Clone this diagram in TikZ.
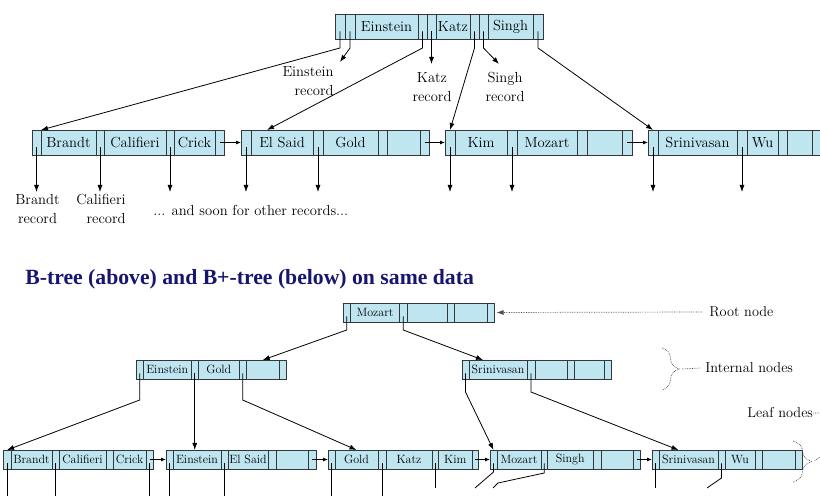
\documentclass[tikz,border=0pt]{standalone}
\usepackage{fontspec}
\newfontfamily\titlefont{Liberation Serif}
\usepackage{tikz}
\usetikzlibrary{positioning,arrows.meta,decorations.pathreplacing}
\definecolor{cellfill}{RGB}{190,229,240}
\definecolor{cellline}{RGB}{50,55,58}
\definecolor{titleblue}{RGB}{22,22,112}

\begin{document}
\begin{tikzpicture}[x=1pt, y=-1pt, >={Latex[length=7pt,width=5pt]}, line width=0.8pt,
    cell/.style={draw=cellline, fill=cellfill, inner sep=0pt, outer sep=0pt},
    big/.style={cell, minimum height=25pt, font=\fontsize{14.6}{17}\selectfont},
    small/.style={cell, minimum height=19pt, font=\fontsize{12}{14}\selectfont},
    rec/.style={inner sep=0pt, font=\fontsize{14.6}{18.5}\selectfont},
    tag/.style={inner sep=0pt, font=\fontsize{14.3}{17}\selectfont},
    note/.style={densely dotted, line width=0.7pt, draw=black!70},
    next/.style={-{Latex[length=5pt,width=4pt]}}]
  \path[use as bounding box, fill=white] (0,0) rectangle (820,502);
  \clip (0,0) rectangle (820,502);

  % B-tree
  \coordinate (rStart) at (335,26.5);
  \foreach \nm/\wid/\txt [remember=\nm as \prev (initially rStart)] in
    {rP1/10/{},rB1/10/{},rK1/63/Einstein,rP2/9/{},rB2/9/{},rK2/34/Katz,rP3/9/{},rB3/9/{},rK3/45/Singh,rP4/10/{}}
    \node[big, minimum width=\wid pt, right=0pt of \prev] (\nm) {\txt};
  \coordinate (lBrStart) at (32,142.5);
  \foreach \nm/\wid/\txt [remember=\nm as \prev (initially lBrStart)] in
    {lBrP1/9/{},lBrK1/55/Brandt,lBrP2/8/{},lBrK2/62/Califieri,lBrP3/8/{},lBrK3/41/Crick,lBrP4/9/{}}
    \node[big, minimum width=\wid pt, right=0pt of \prev] (\nm) {\txt};
  \coordinate (lElStart) at (241,142.5);
  \foreach \nm/\wid/\txt [remember=\nm as \prev (initially lElStart)] in
    {lElP1/10/{},lElK1/62/El Said,lElP2/10/{},lElK2/55/Gold,lElP3/9/{},lElK3/33/{},lElP4/9/{}}
    \node[big, minimum width=\wid pt, right=0pt of \prev] (\nm) {\txt};
  \coordinate (lKiStart) at (445,142.5);
  \foreach \nm/\wid/\txt [remember=\nm as \prev (initially lKiStart)] in
    {lKiP1/10/{},lKiK1/52/Kim,lKiP2/10/{},lKiK2/60/Mozart,lKiP3/10/{},lKiK3/35/{},lKiP4/10/{}}
    \node[big, minimum width=\wid pt, right=0pt of \prev] (\nm) {\txt};
  \coordinate (lSrStart) at (648,142.5);
  \foreach \nm/\wid/\txt [remember=\nm as \prev (initially lSrStart)] in
    {lSrP1/10/{},lSrK1/79/Srinivasan,lSrP2/10/{},lSrK2/31/Wu,lSrP3/9/{},lSrK3/25/{},lSrP4/10/{}}
    \node[big, minimum width=\wid pt, right=0pt of \prev] (\nm) {\txt};

  \node[rec, align=right, anchor=east] (einRec) at (334,81) {Einstein\\record};
  \node[rec, align=center] (katzRec) at (432,87) {Katz\\record};
  \node[rec, align=center] (singhRec) at (505,87) {Singh\\record};
  \coordinate (bendTop) at (0,48);
  \coordinate (einTip) at (340,62);
  \coordinate (katzTip) at (0,64);
  \coordinate (singhTip) at (499,64);
  \draw[->] ([yshift=-5pt]rP1.center) -- (rP1 |- bendTop) -- (lBrP1.north east);
  \draw[->] ([yshift=-5pt]rB1.center) -- (rB1 |- bendTop) -- (einTip);
  \draw[->] ([yshift=-5pt]rP2.center) -- (rP2 |- bendTop) -- ([xshift=16pt]lElK1.north west);
  \draw[->] ([yshift=-5pt]rB2.center) -- (rB2 |- katzTip);
  \draw[->] ([yshift=-5pt]rP3.center) -- (rP3 |- bendTop) -- (lKiP1.north);
  \draw[->] ([yshift=-5pt]rB3.center) -- (rB3 |- bendTop) -- (singhTip);
  \draw[->] ([yshift=-5pt]rP4.center) -- (rP4 |- bendTop) -- (lSrP1.north);

  \draw[next] (lBrP4.center) -- (lElP1.west);
  \draw[next] (lElP4.center) -- (lKiP1.west);
  \draw[next] (lKiP4.center) -- (lSrP1.west);
  \coordinate (recLine) at (0,192);
  \foreach \p in {lBrP1,lBrP2,lBrP3,lElP1,lElP2,lKiP1,lKiP2,lSrP1,lSrP2}
    \draw[->] ([yshift=-5pt]\p.center) -- (\p |- recLine);
  \node[rec, align=center, anchor=north] (brRec) at (37.5,194) {Brandt\\record};
  \node[rec, align=right, anchor=north east] (caRec) at (126,194) {Califieri\\record};
  \node[rec, anchor=west] (others) at (153,210) {... and soon for other records...};

  \node[anchor=west, inner sep=0pt, text=titleblue,
    font={\titlefont\bfseries\fontsize{21.7}{26}\selectfont}] (title) at (25,279)
    {B-tree (above) and B+-tree (below) on same data};

  % B+-tree
  \coordinate (bRtStart) at (343,312.5);
  \foreach \nm/\wid/\txt [remember=\nm as \prev (initially bRtStart)] in
    {bRtP1/7.5/{},bRtK1/49/Mozart,bRtP2/7.5/{},bRtK2/40/{},bRtP3/7.5/{},bRtK3/33/{},bRtP4/7/{}}
    \node[small, minimum width=\wid pt, right=0pt of \prev] (\nm) {\txt};
  \coordinate (iEiStart) at (136,369.5);
  \foreach \nm/\wid/\txt [remember=\nm as \prev (initially iEiStart)] in
    {iEiP1/7.5/{},iEiK1/47.5/Einstein,iEiP2/7.5/{},iEiK2/40.5/Gold,iEiP3/7.5/{},iEiK3/32.5/{},iEiP4/7/{}}
    \node[small, minimum width=\wid pt, right=0pt of \prev] (\nm) {\txt};
  \coordinate (iSrStart) at (462,369.5);
  \foreach \nm/\wid/\txt [remember=\nm as \prev (initially iSrStart)] in
    {iSrP1/7/{},iSrK1/58/Srinivasan,iSrP2/8/{},iSrK2/32/{},iSrP3/7/{},iSrK3/30/{},iSrP4/7/{}}
    \node[small, minimum width=\wid pt, right=0pt of \prev] (\nm) {\txt};
  \coordinate (bBrStart) at (3,459.5);
  \foreach \nm/\wid/\txt [remember=\nm as \prev (initially bBrStart)] in
    {bBrP1/8/{},bBrK1/41/Brandt,bBrP2/7/{},bBrK2/47/Califieri,bBrP3/7/{},bBrK3/33/Crick,bBrP4/7/{}}
    \node[small, minimum width=\wid pt, right=0pt of \prev] (\nm) {\txt};
  \coordinate (bEiStart) at (166,459.5);
  \foreach \nm/\wid/\txt [remember=\nm as \prev (initially bEiStart)] in
    {bEiP1/7/{},bEiK1/48/Einstein,bEiP2/7/{},bEiK2/40/El Said,bEiP3/8/{},bEiK3/32/{},bEiP4/8/{}}
    \node[small, minimum width=\wid pt, right=0pt of \prev] (\nm) {\txt};
  \coordinate (bGoStart) at (328,459.5);
  \foreach \nm/\wid/\txt [remember=\nm as \prev (initially bGoStart)] in
    {bGoP1/7/{},bGoK1/43/Gold,bGoP2/8/{},bGoK2/46/Katz,bGoP3/6.5/{},bGoK3/33.5/Kim,bGoP4/6.5/{}}
    \node[small, minimum width=\wid pt, right=0pt of \prev] (\nm) {\txt};
  \coordinate (bMoStart) at (490,459.5);
  \foreach \nm/\wid/\txt [remember=\nm as \prev (initially bMoStart)] in
    {bMoP1/7/{},bMoK1/44/Mozart,bMoP2/6.5/{},bMoK2/45.5/Singh,bMoP3/8/{},bMoK3/32/{},bMoP4/7/{}}
    \node[small, minimum width=\wid pt, right=0pt of \prev] (\nm) {\txt};
  \coordinate (bSrStart) at (652,459.5);
  \foreach \nm/\wid/\txt [remember=\nm as \prev (initially bSrStart)] in
    {bSrP1/7/{},bSrK1/59/Srinivasan,bSrP2/7/{},bSrK2/30/Wu,bSrP3/7/{},bSrK3/33/{},bSrP4/7/{}}
    \node[small, minimum width=\wid pt, right=0pt of \prev] (\nm) {\txt};

  \coordinate (bendRoot) at (0,330);
  \coordinate (bendIntA) at (0,400);
  \coordinate (bendIntB) at (0,392);
  \draw[->] ([yshift=-4pt]bRtP1.center) -- (bRtP1 |- bendRoot) -- (iEiK3.north);
  \draw[->] ([yshift=-4pt]bRtP2.center) -- (bRtP2 |- bendRoot) -- ([xshift=14pt]iSrK1.north west);
  \draw[->] ([yshift=-4pt]iEiP1.center) -- (iEiP1 |- bendIntA) -- (bBrP1.north);
  \draw[->] ([yshift=-4pt]iEiP2.center) -- (iEiP2 |- bEiK1.north);
  \draw[->] ([yshift=-4pt]iEiP3.center) -- (iEiP3 |- bendIntA) -- (bGoK1.north);
  \draw[->] ([yshift=-4pt]iSrP1.center) -- (iSrP1 |- bendIntB) -- (bMoP1.north);
  \draw[->] ([yshift=-4pt]iSrP2.center) -- (iSrP2 |- bendIntB) -- ([xshift=-10pt]bSrK1.north);

  \draw[next] (bBrP4.center) -- (bEiP1.west);
  \draw[next] (bEiP4.center) -- (bGoP1.west);
  \draw[next] (bGoP4.center) -- (bMoP1.west);
  \draw[next] (bMoP4.center) -- (bSrP1.west);
  \coordinate (cutA) at (0,496);
  \coordinate (cutB) at (0,488);
  \foreach \p in {bBrP1,bBrP2,bBrP4,bEiP1,bEiP2,bGoP1,bGoP2}
    \draw ([yshift=-4pt]\p.center) -- (\p |- cutA);
  \foreach \p in {bGoP3,bSrP1}
    \draw ([yshift=-4pt]\p.center) -- (\p |- cutB);
  \coordinate (mozCut) at (475,488);
  \coordinate (singhBend) at (498,483);
  \coordinate (singhCut) at (493,488);
  \coordinate (wuCut) at (707,488);
  \draw ([yshift=-4pt]bMoP1.center) -- ([yshift=-12.5pt]bMoP1.center) -- (mozCut);
  \draw ([yshift=-4pt]bMoP2.center) -- ([yshift=-13.5pt]bMoP2.center) -- (singhBend) -- (singhCut);
  \draw ([yshift=-4pt]bSrP2.center) -- ([yshift=-18.5pt]bSrP2.center) -- (wuCut);

  \node[tag, anchor=west] (rootLbl) at (709,312) {Root node};
  \node[tag, anchor=west] (intLbl) at (705,368) {Internal nodes};
  \node[tag, anchor=west] (leafLbl) at (747,413) {Leaf nodes};
  \draw[note, ->] ([xshift=-7pt]rootLbl.west) -- ([xshift=2pt]bRtP4.east);
  \draw[note, decorate, decoration={brace, amplitude=17pt}] (662,348) -- (662,390);
  \coordinate (intTip) at (682,369);
  \draw[note] (intTip) -- ([xshift=-5pt]intLbl.west);
  \draw[note, decorate, decoration={brace, amplitude=19pt}] (793,441) -- (793,482);
  \coordinate (leafTip) at (814,461);
  \draw[note] (leafLbl.east) -- (830,413) -- (830,450) -- (leafTip);
\end{tikzpicture}
\end{document}
